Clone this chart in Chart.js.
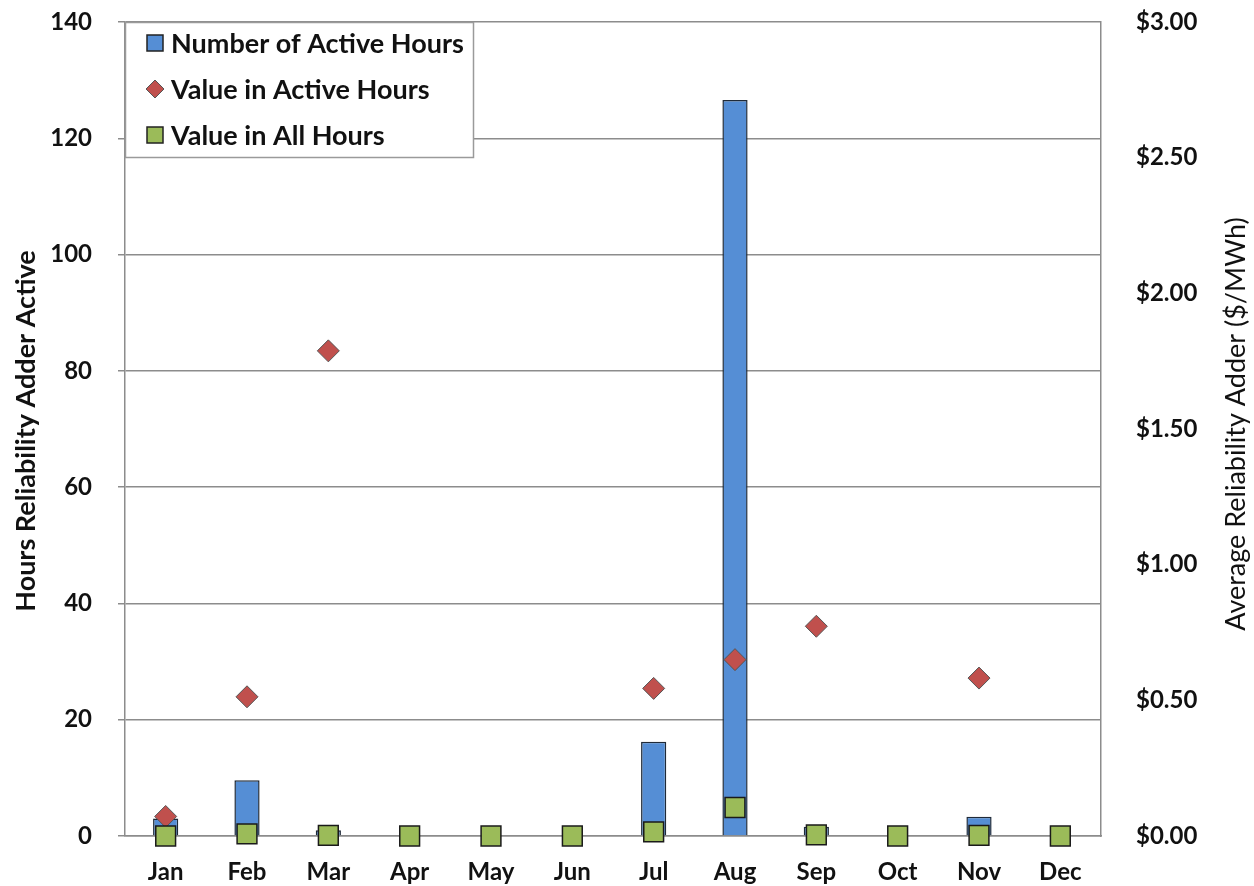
<!DOCTYPE html>
<html>
<head>
<meta charset="utf-8">
<script src="https://cdn.jsdelivr.net/npm/chart.js@4.4.1/dist/chart.umd.min.js"></script>
<style>
  html, body { margin: 0; padding: 0; background: #fff; }
  #wrap { width: 1254px; height: 886px; position: relative; }
</style>
</head>
<body>
<div id="wrap"><canvas id="chart" width="1254" height="886"></canvas></div>
<script>
var months = ['Jan', 'Feb', 'Mar', 'Apr', 'May', 'Jun', 'Jul', 'Aug', 'Sep', 'Oct', 'Nov', 'Dec'];
// hours the reliability adder was active
var activeHours = [3, 9.6, 1, 0, 0, 0, 16.2, 126.6, 1.6, 0, 3.3, 0];
// $/MWh averaged over the active hours only
var valueActive = [0.072, 0.513, 1.788, null, null, null, 0.544, 0.650, 0.773, null, 0.582, null];
// $/MWh averaged over all hours
var valueAll = [0, 0.008, 0.002, 0, 0, 0, 0.015, 0.105, 0.004, 0, 0.002, 0];
var hourTicks = [0, 20, 40, 60, 80, 100, 120, 140];
var dollarTicks = [0, 0.5, 1, 1.5, 2, 2.5, 3];

var FONT = 'Lato, "Open Sans", sans-serif';
var GRID = '#8c8c8c';

var seriesNames = ['Number of Active Hours', 'Value in Active Hours', 'Value in All Hours'];

// legend box sitting in the top left corner of the plot
var boxLegend = {
    id: 'boxLegend',
    afterDatasetsDraw: function (chart) {
        var ctx = chart.ctx;
        var area = chart.chartArea;
        var x = area.left, y = area.top, w = 348, h = 135;
        ctx.save();
        ctx.fillStyle = '#fff';
        ctx.fillRect(x, y, w, h);
        ctx.strokeStyle = '#9a9a9a';
        ctx.lineWidth = 1.5;
        ctx.strokeRect(x + 0.5, y + 0.5, w, h);
        ctx.font = 'bold 27px ' + FONT;
        ctx.textBaseline = 'middle';
        var rows = [y + 21, y + 67, y + 113];
        var ds = chart.data.datasets;
        rows.forEach(function (ry, i) {
            var mx = x + 30;
            ctx.lineWidth = 1.5;
            ctx.strokeStyle = '#222';
            if (i === 0) {
                ctx.fillStyle = ds[0].backgroundColor;
                ctx.fillRect(mx - 8, ry - 8, 16, 16);
                ctx.strokeRect(mx - 8, ry - 8, 16, 16);
            } else if (i === 1) {
                ctx.fillStyle = ds[1].backgroundColor;
                ctx.beginPath();
                ctx.moveTo(mx, ry - 9);
                ctx.lineTo(mx + 9, ry);
                ctx.lineTo(mx, ry + 9);
                ctx.lineTo(mx - 9, ry);
                ctx.closePath();
                ctx.fill();
                ctx.strokeStyle = '#555';
                ctx.lineWidth = 1;
                ctx.stroke();
            } else {
                ctx.fillStyle = ds[2].backgroundColor;
                ctx.fillRect(mx - 8, ry - 8, 16, 16);
                ctx.strokeRect(mx - 8, ry - 8, 16, 16);
            }
            ctx.fillStyle = '#111';
            ctx.textAlign = 'left';
            ctx.fillText(seriesNames[i], x + 46, ry + 1);
        });
        ctx.restore();
    }
};

// both axis titles read bottom to top
var axisTitles = {
    id: 'axisTitles',
    afterDraw: function (chart) {
        var ctx = chart.ctx;
        var area = chart.chartArea;
        var cy = (area.top + area.bottom) / 2;
        ctx.save();
        ctx.fillStyle = '#111';
        ctx.textAlign = 'center';
        ctx.textBaseline = 'middle';
        ctx.font = 'bold 27px ' + FONT;
        ctx.translate(26, cy + 2);
        ctx.rotate(-Math.PI / 2);
        ctx.fillText('Hours Reliability Adder Active', 0, 0);
        ctx.restore();
        ctx.save();
        ctx.fillStyle = '#111';
        ctx.textAlign = 'center';
        ctx.textBaseline = 'middle';
        ctx.font = '27px ' + FONT;
        ctx.translate(1236, cy - 5);
        ctx.rotate(-Math.PI / 2);
        ctx.fillText('Average Reliability Adder ($/MWh)', 0, 0);
        ctx.restore();
    }
};

// fixed axis widths, and no extra room reserved above/below for tick labels
function fitVertical(width) {
    return function (s) {
        s.width = width;
        s.paddingTop = 0;
        s.paddingBottom = 0;
    };
}

new Chart(document.getElementById('chart'), {
    type: 'bar',
    data: {
        labels: months,
        datasets: [{
            type: 'bar',
            label: seriesNames[0],
            data: activeHours,
            yAxisID: 'y',
            backgroundColor: '#558ed5',
            borderColor: '#1f2a38',
            borderWidth: 1.5,
            barPercentage: 0.31,
            categoryPercentage: 1,
            order: 3
        }, {
            type: 'line',
            label: seriesNames[1],
            data: valueActive,
            yAxisID: 'y1',
            showLine: false,
            pointStyle: 'rectRot',
            pointRadius: 11,
            pointHoverRadius: 11,
            backgroundColor: '#c0504d',
            borderColor: '#555',
            pointBorderWidth: 1,
            clip: false,
            order: 2
        }, {
            type: 'line',
            label: seriesNames[2],
            data: valueAll,
            yAxisID: 'y1',
            showLine: false,
            pointStyle: 'rect',
            pointRadius: 14,
            pointHoverRadius: 14,
            backgroundColor: '#9bbb59',
            borderColor: '#1a1a1a',
            pointBorderWidth: 1.5,
            clip: false,
            order: 1
        }]
    },
    options: {
        responsive: false,
        animation: false,
        events: [],
        layout: { padding: { top: 22, right: 0, left: 0, bottom: 0 } },
        plugins: {
            legend: { display: false },
            tooltip: { enabled: false }
        },
        scales: {
            x: {
                grid: { display: false },
                border: { display: true, color: GRID, width: 1.5 },
                ticks: {
                    color: '#111',
                    font: { family: FONT, size: 24, weight: 'bold' },
                    padding: 14,
                    maxRotation: 0
                },
                afterFit: function (s) { s.height = 50; s.paddingLeft = 0; s.paddingRight = 0; }
            },
            y: {
                position: 'left',
                min: 0,
                max: 140,
                afterBuildTicks: function (s) {
                    s.ticks = hourTicks.map(function (v) { return { value: v }; });
                },
                grid: { color: GRID, lineWidth: 1.5, tickLength: 7, drawTicks: true },
                border: { display: true, color: GRID, width: 1.5 },
                ticks: {
                    color: '#111',
                    font: { family: FONT, size: 24, weight: 'bold' },
                    padding: 26
                },
                afterFit: fitVertical(125)
            },
            y1: {
                position: 'right',
                min: 0,
                max: 3,
                afterBuildTicks: function (s) {
                    s.ticks = dollarTicks.map(function (v) { return { value: v }; });
                },
                grid: { display: false, drawOnChartArea: false },
                border: { display: true, color: GRID, width: 1.5 },
                ticks: {
                    color: '#111',
                    font: { family: FONT, size: 24, weight: 'bold' },
                    padding: 27,
                    callback: function (v) { return '$' + Number(v).toFixed(2); }
                },
                afterFit: fitVertical(153)
            }
        }
    },
    plugins: [boxLegend, axisTitles]
});
</script>
</body>
</html>
